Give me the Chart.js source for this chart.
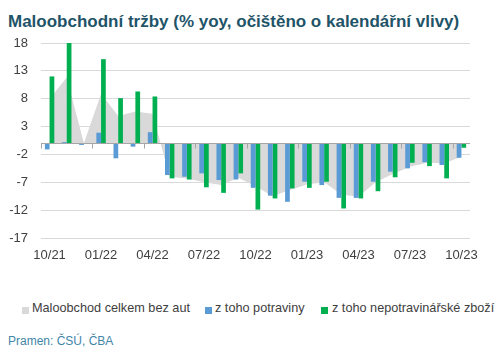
<!DOCTYPE html>
<html>
<head>
<meta charset="utf-8">
<script src="https://cdn.jsdelivr.net/npm/chart.js@4/dist/chart.umd.min.js"></script>
<style>
  html, body { margin: 0; padding: 0; background: #fff; }
  body { width: 500px; height: 355px; position: relative; overflow: hidden; font-family: 'Liberation Sans', Arial, sans-serif; }
  #title { position: absolute; left: 8px; top: 13px; font-weight: bold; font-size: 17px; line-height: 17px; color: #1F5468; white-space: nowrap; }
  #chartWrap { position: absolute; left: 0; top: 0; width: 500px; height: 275px; }
  #legend { position: absolute; left: 0; top: 302px; width: 500px; height: 14px; font-size: 12.7px; line-height: 13px; color: #404040; white-space: nowrap; }
  .li { position: absolute; top: 0; }
  .sw { position: absolute; top: 5px; width: 7px; height: 7px; }
  #source { position: absolute; left: 8px; top: 335px; font-size: 12px; line-height: 12px; color: #3F86A8; white-space: nowrap; }
</style>
</head>
<body>
<div id="title">Maloobchodní tržby (% yoy, očištěno o kalendářní vlivy)</div>
<div id="chartWrap"><canvas id="c" width="500" height="275"></canvas></div>
<div id="legend">
  <div class="sw" style="left:22px;background:#D9D9D9"></div><div class="li" style="left:32px">Maloobchod celkem bez aut</div>
  <div class="sw" style="left:205px;background:#5B9BD5"></div><div class="li" style="left:215px">z toho potraviny</div>
  <div class="sw" style="left:321px;background:#00B050"></div><div class="li" style="left:332px">z toho nepotravinářské zboží</div>
</div>
<div id="source">Pramen: ČSÚ, ČBA</div>
<script>
const labels = ['10/21','11/21','12/21','01/22','02/22','03/22','04/22','05/22','06/22','07/22','08/22','09/22','10/22','11/22','12/22','01/23','02/23','03/23','04/23','05/23','06/23','07/23','08/23','09/23','10/23'];
const totalExAuto = [8.0, 11.8, 0.0, 8.9, 4.9, 5.7, 5.3, -6.0, -6.3, -7.0, -7.5, -6.2, -7.7, -9.5, -8.4, -7.4, -7.0, -9.2, -9.6, -7.0, -5.5, -4.2, -3.5, -3.6, -2.4];
const food = [-1.1, 0.2, -0.3, 1.9, -2.7, -0.6, 2.0, -5.7, -6.0, -5.4, -6.6, -6.5, -8.0, -9.4, -10.5, -6.9, -7.5, -9.8, -9.8, -6.9, -5.1, -4.5, -3.4, -3.9, -2.6];
const nonFood = [12.0, 18.0, 0.0, 15.1, 8.1, 9.3, 8.4, -6.3, -6.5, -7.9, -8.9, -5.4, -11.9, -9.9, -8.1, -8.0, -6.9, -11.7, -9.9, -8.6, -6.1, -3.5, -4.1, -6.3, -0.8];
const yTicks = [18, 13, 8, 3, -2, -7, -12, -17];
const seriesNames = ['Maloobchod celkem bez aut', 'z toho potraviny', 'z toho nepotravinářské zboží'];

const zeroAxis = {
  id: 'zeroAxis',
  afterDatasetsDraw(chart) {
    const { ctx, chartArea, scales: { x, y } } = chart;
    const y0 = Math.round(y.getPixelForValue(0)) + 0.5;
    const step = x.getPixelForValue(1) - x.getPixelForValue(0);
    ctx.save();
    ctx.strokeStyle = '#A6A6A6';
    ctx.lineWidth = 1;
    ctx.beginPath();
    ctx.moveTo(chartArea.left, y0);
    ctx.lineTo(chartArea.right, y0);
    for (let i = 0; i < labels.length; i += 3) {
      const px = Math.round(x.getPixelForValue(i) - step / 2) + 0.5;
      ctx.moveTo(px, y0);
      ctx.lineTo(px, y0 + 5);
    }
    ctx.stroke();
    ctx.restore();
  }
};

new Chart(document.getElementById('c'), {
  type: 'bar',
  data: {
    labels: labels,
    datasets: [
      { type: 'line', label: seriesNames[0], data: totalExAuto, backgroundColor: '#D9D9D9', borderColor: '#D9D9D9', borderWidth: 0, fill: 'origin', pointRadius: 0, tension: 0, order: 3 },
      { label: seriesNames[1], data: food, backgroundColor: '#5B9BD5', categoryPercentage: 0.55, barPercentage: 1, order: 1 },
      { label: seriesNames[2], data: nonFood, backgroundColor: '#00B050', categoryPercentage: 0.55, barPercentage: 1, order: 2 }
    ]
  },
  options: {
    responsive: false,
    devicePixelRatio: 1,
    animation: false,
    layout: { padding: { top: 43, right: 30, left: 0, bottom: 0 } },
    plugins: { legend: { display: false }, tooltip: { enabled: false }, title: { display: false } },
    scales: {
      x: {
        grid: { display: false, drawTicks: false },
        border: { display: false },
        ticks: {
          autoSkip: false, maxRotation: 0, minRotation: 0, padding: 10,
          color: '#404040', font: { family: 'Liberation Sans', size: 13 },
          callback: function(v, i) { return i % 3 === 0 ? labels[i] : ''; }
        },
        afterFit(s) { s.height = 37; }
      },
      y: {
        min: -17, max: 18,
        afterBuildTicks(s) { s.ticks = yTicks.map(v => ({ value: v })); },
        grid: { color: '#D9D9D9', drawTicks: false },
        border: { display: false },
        ticks: { padding: 13, color: '#404040', font: { family: 'Liberation Sans', size: 13 } },
        afterFit(s) { s.width = 41; }
      }
    }
  },
  plugins: [zeroAxis]
});
</script>
</body>
</html>
